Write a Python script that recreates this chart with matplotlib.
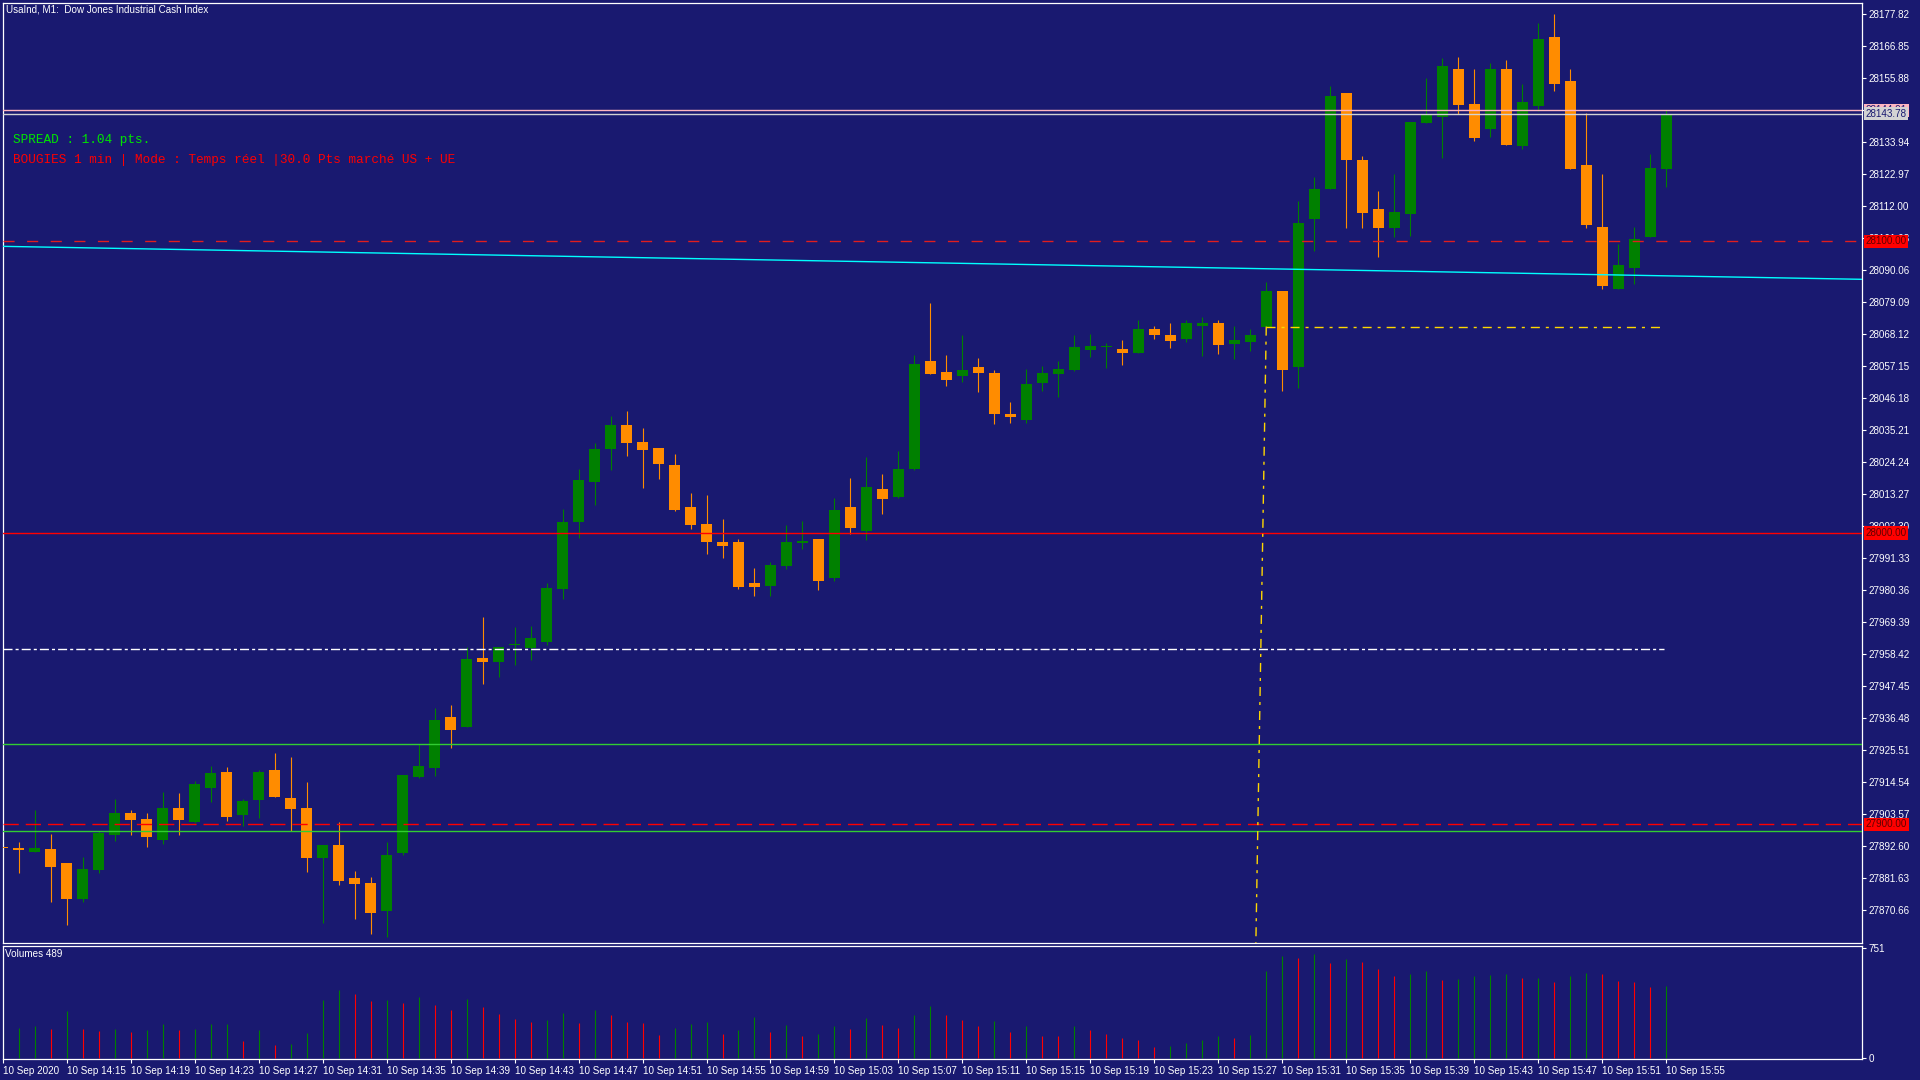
import numpy as np
import pandas as pd
import matplotlib
matplotlib.use('Agg')
import matplotlib.pyplot as plt
import matplotlib.transforms as mtrans

plt.rcParams['font.family'] = ['Liberation Sans', 'DejaVu Sans']
plt.rcParams['lines.scale_dashes'] = False

# UsaInd M1 candles, 10 Sep 2020 14:11 -> 15:55
opens = [27891.92, 27892.02, 27890.65, 27891.57, 27886.77, 27874.54, 27884.48, 27896.48, 27903.92, 27901.86,
         27894.76, 27905.63, 27900.93, 27912.59, 27917.97, 27903.33, 27908.47, 27918.66, 27909.06, 27905.63,
         27888.59, 27892.95, 27881.63, 27879.92, 27870.42, 27890.30, 27916.36, 27919.44, 27936.83, 27933.50,
         27957.05, 27955.78, 27961.51, 27960.58, 27962.64, 27980.70, 28003.78, 28017.49, 28028.80, 28036.93,
         28031.10, 28029.04, 28023.21, 28008.82, 28002.99, 27996.82, 27996.82, 27982.76, 27981.84, 27988.69,
         27996.58, 27997.85, 27984.58, 28008.82, 28000.69, 28014.99, 28012.35, 28021.84, 28058.87, 28055.09,
         28053.83, 28056.81, 28054.75, 28040.70, 28038.74, 28051.43, 28054.51, 28055.88, 28062.74, 28063.77,
         28062.98, 28061.71, 28069.84, 28067.78, 28066.51, 28070.97, 28071.89, 28064.80, 28065.48, 28070.62,
         28082.86, 28056.91, 28107.54, 28117.93, 28150.74, 28127.77, 28110.97, 28104.56, 28109.36, 28140.56,
         28142.61, 28158.97, 28146.97, 28138.50, 28158.97, 28132.67, 28146.38, 28169.94, 28154.85, 28126.06,
         28104.80, 28083.65, 28090.85, 28101.48, 28124.79]
highs = [27892.60, 27893.97, 27904.94, 27896.72, 27886.77, 27888.83, 27897.85, 27908.71, 27904.94, 27903.92,
         27911.11, 27910.77, 27914.89, 27920.03, 27919.68, 27908.71, 27918.66, 27924.48, 27923.11, 27914.54,
         27892.95, 27900.83, 27884.03, 27881.98, 27893.97, 27916.94, 27927.47, 27939.91, 27940.94, 27960.82,
         27971.11, 27960.82, 27967.68, 27968.02, 27982.76, 28008.13, 28021.84, 28030.76, 28040.01, 28041.73,
         28035.90, 28029.04, 28026.98, 28013.61, 28012.93, 28004.70, 27997.85, 27987.90, 27989.96, 28002.64,
         28004.02, 27997.85, 28011.90, 28018.76, 28025.96, 28020.13, 28028.01, 28060.92, 28078.75, 28060.92,
         28067.78, 28059.89, 28055.78, 28044.81, 28056.12, 28057.15, 28058.87, 28067.78, 28068.12, 28065.04,
         28066.06, 28072.92, 28070.86, 28071.89, 28072.92, 28073.95, 28072.92, 28070.86, 28069.84, 28085.95,
         28082.86, 28113.72, 28121.94, 28153.14, 28150.74, 28129.14, 28117.14, 28122.97, 28140.80, 28155.88,
         28162.74, 28163.08, 28158.97, 28161.02, 28162.05, 28153.82, 28174.74, 28177.82, 28158.97, 28143.88,
         28122.97, 28098.97, 28104.80, 28129.83, 28144.91]
lows = [27891.60, 27883.35, 27890.65, 27873.51, 27865.62, 27873.51, 27883.45, 27894.42, 27896.48, 27892.36,
        27893.39, 27896.48, 27900.59, 27907.79, 27901.28, 27899.56, 27902.30, 27909.50, 27897.85, 27883.79,
        27866.31, 27879.34, 27867.68, 27862.54, 27861.51, 27889.62, 27915.90, 27916.70, 27926.30, 27933.50,
        27948.24, 27950.64, 27954.75, 27956.47, 27961.61, 27977.28, 27998.29, 28009.60, 28021.60, 28026.40,
        28015.43, 28018.52, 28007.55, 28001.38, 27992.81, 27991.43, 27980.81, 27978.41, 27978.41, 27987.66,
        27994.52, 27980.46, 27983.55, 27999.66, 27997.61, 28006.52, 28011.90, 28021.50, 28054.51, 28050.40,
        28051.77, 28048.34, 28037.37, 28037.71, 28037.71, 28048.68, 28046.63, 28055.54, 28060.34, 28056.57,
        28057.60, 28061.71, 28066.51, 28063.42, 28065.48, 28060.68, 28061.37, 28059.65, 28062.40, 28070.52,
        28048.68, 28049.71, 28096.57, 28117.93, 28104.56, 28104.56, 28094.62, 28101.48, 28101.82, 28140.56,
        28128.56, 28143.64, 28134.39, 28135.76, 28133.02, 28131.64, 28144.67, 28151.53, 28124.79, 28104.56,
        28083.65, 28083.65, 28085.36, 28101.48, 28118.62]
closes = [27891.92, 27891.23, 27891.92, 27885.40, 27874.54, 27884.72, 27897.06, 27903.92, 27901.62, 27895.79,
          27905.63, 27901.62, 27913.86, 27917.63, 27902.65, 27908.03, 27917.97, 27909.50, 27905.39, 27888.59,
          27892.95, 27880.71, 27879.68, 27869.74, 27889.52, 27916.94, 27920.03, 27935.80, 27932.47, 27956.71,
          27955.78, 27960.82, 27961.95, 27963.91, 27981.05, 28003.67, 28018.07, 28028.70, 28036.93, 28030.86,
          28028.46, 28023.66, 28007.89, 28002.75, 27996.92, 27995.55, 27981.49, 27981.49, 27988.93, 27996.82,
          27997.16, 27983.55, 28007.79, 28001.72, 28015.67, 28011.66, 28021.84, 28057.84, 28054.51, 28052.45,
          28055.78, 28054.85, 28040.80, 28039.77, 28050.98, 28054.75, 28056.12, 28063.66, 28064.01, 28064.11,
          28061.71, 28069.84, 28067.88, 28065.82, 28071.89, 28071.89, 28064.45, 28066.06, 28067.78, 28082.86,
          28055.88, 28106.17, 28117.83, 28149.71, 28127.87, 28109.70, 28104.56, 28109.94, 28140.80, 28143.20,
          28159.99, 28146.73, 28135.41, 28158.97, 28133.02, 28147.65, 28169.25, 28153.93, 28124.79, 28105.59,
          28084.68, 28091.78, 28100.69, 28125.03, 28143.78]
volumes = [180, 203, 217, 196, 318, 196, 183, 196, 176, 189,
           230, 189, 196, 230, 232, 115, 189, 88, 95, 169,
           392, 460, 433, 386, 392, 372, 413, 359, 325, 399,
           345, 298, 264, 246, 257, 304, 237, 325, 291, 244,
           237, 156, 203, 230, 244, 162, 189, 277, 176, 223,
           149, 162, 217, 196, 271, 223, 203, 291, 352, 291,
           257, 217, 250, 176, 217, 149, 149, 217, 189, 162,
           135, 122, 74, 81, 101, 122, 149, 135, 156, 589,
           690, 683, 704, 643, 670, 650, 602, 555, 568, 589,
           528, 535, 555, 562, 568, 541, 543, 514, 555, 575,
           568, 521, 514, 480, 489]

price_ticks = [28177.82, 28166.85, 28155.88, 28144.91, 28133.94, 28122.97, 28112.00, 28101.03,
               28090.06, 28079.09, 28068.12, 28057.15, 28046.18, 28035.21, 28024.24, 28013.27,
               28002.30, 27991.33, 27980.36, 27969.39, 27958.42, 27947.45, 27936.48, 27925.51,
               27914.54, 27903.57, 27892.60, 27881.63, 27870.66]

bid, ask = 28143.78, 28144.91
level_prices = [28100.00, 28000.00, 27900.00]
green_levels = [27927.57, 27897.74]
white_level = 27960.14
yellow_level = 28070.76
cyan_start, cyan_end = 28098.29, 28086.98

BG = '#191970'
UP = '#008000'
DOWN = '#FF8C00'
FS = 7.1

o = np.array(opens); h = np.array(highs); l = np.array(lows); c = np.array(closes)
v = np.array(volumes)
n = len(o)
idx = np.arange(n)
times = pd.date_range('2020-09-10 14:11', periods=n, freq='min')

W, H = 1920, 1080
fig = plt.figure(figsize=(19.2, 10.8), dpi=100, facecolor=BG)

def fx(px):
    return px / W

def fy(py):
    return 1 - py / H

ax = fig.add_axes([fx(2.5), fy(942.5), fx(1862) - fx(2.5), fy(2.5) - fy(942.5)])
vax = fig.add_axes([fx(2.5), fy(1059), fx(1862) - fx(2.5), fy(945.5) - fy(1059)])

for a in (ax, vax):
    a.set_facecolor(BG)
    for s in a.spines.values():
        s.set_color('white')
        s.set_linewidth(0.9)
    a.set_xlim(-0.02, 116.25)

# candles
col = np.where(c > o, UP, DOWN)
ax.vlines(idx, l, h, colors=col, lw=0.8, zorder=2)
body_lo = np.minimum(o, c)
body_h = np.maximum(np.abs(c - o), 0.4)
ax.bar(idx, body_h, bottom=body_lo, width=0.69, color=col, lw=0, zorder=3)

# lines on the chart
ax.axhline(ask, color='#FFB6C1', lw=1.0, zorder=5)
ax.axhline(bid, color='#D3D3D3', lw=1.0, zorder=5)
ax.axhline(level_prices[0], color='#E01E1E', lw=1.0, dashes=(8, 9), zorder=5)
ax.axhline(level_prices[1], color='#FF0000', lw=1.0, zorder=5)
ax.axhline(level_prices[2], color='#FF0000', lw=1.0, dashes=(11, 5), zorder=5)
for g in green_levels:
    ax.axhline(g, color='#32CD32', lw=1.0, zorder=5)
ax.plot([-0.02, 103.9], [white_level, white_level], color='white', lw=1.0,
        dashes=(6.5, 2.2, 2.2, 2.2), zorder=5)
ax.plot([79, 103.8], [yellow_level, yellow_level], color='#FFD700', lw=1.0,
        dashes=(6.5, 4.3, 2.2, 4.3), zorder=5)
ax.plot([79, 78.35], [yellow_level, 27859.3], color='#FFD700', lw=1.0,
        dashes=(6.5, 4.3, 2.2, 4.3), zorder=5)
ax.plot([-0.02, 116.25], [cyan_start, cyan_end], color='#00FFFF', lw=1.0, zorder=5)

ax.set_ylim(27859.5, 28181.93)
ax.yaxis.tick_right()
ax.set_yticks(price_ticks)
ax.set_yticklabels(['%.2f' % t for t in price_ticks])
ax.tick_params(axis='y', colors='white', length=3, width=0.8, labelsize=FS, pad=1.5)
ax.set_xticks([])

# price labels on the right
tr = mtrans.blended_transform_factory(ax.transAxes, ax.transData)
xl = 1 + 3.5 / 1859.5
ax.text(xl, ask, '%.2f' % ask, transform=tr, color=BG, fontsize=FS, va='center', ha='left',
        clip_on=False, zorder=10, bbox=dict(boxstyle='square,pad=0.18', fc='#FFB6C1', ec='none'))
ax.text(xl, bid, '%.2f' % bid, transform=tr, color=BG, fontsize=FS, va='center', ha='left',
        clip_on=False, zorder=11, bbox=dict(boxstyle='square,pad=0.18', fc='#D3D3D3', ec='none'))
for p in level_prices:
    ax.text(xl, p, '%.2f' % p, transform=tr, color='#600000', fontsize=FS, va='center', ha='left',
            clip_on=False, zorder=10, bbox=dict(boxstyle='square,pad=0.18', fc='#FF0000', ec='none'))

# volumes
vcol = [UP] + [UP if v[i] > v[i - 1] else '#FF0000' for i in range(1, n)]
vax.vlines(idx, 0, v, colors=vcol, lw=0.8)
vax.set_ylim(-6.8, 764.6)
vax.yaxis.tick_right()
vax.set_yticks([0, 751])
vax.set_yticklabels(['0', '751'])
vax.tick_params(axis='y', colors='white', length=3, width=0.8, labelsize=FS, pad=1.5)
xt = idx[::4]
vax.set_xticks(xt)
vax.set_xticklabels(['10 Sep 2020' if i == 0 else times[i].strftime('10 Sep %H:%M') for i in xt],
                    ha='left')
vax.tick_params(axis='x', colors='white', length=3, width=0.8, labelsize=FS, pad=2)

# texts
fig.text(fx(6), fy(9), 'UsaInd, M1:  Dow Jones Industrial Cash Index', color='white',
         fontsize=FS, va='center', ha='left')
fig.text(fx(5), fy(954), 'Volumes 489', color='white', fontsize=FS, va='center', ha='left')
fig.text(fx(13), fy(140), 'SPREAD : 1.04 pts.', color='#00E600', fontsize=9.2,
         family=['Liberation Mono', 'DejaVu Sans Mono'], va='center', ha='left')
fig.text(fx(13), fy(160), 'BOUGIES 1 min | Mode : Temps réel |30.0 Pts marché US + UE', color='#FF0000',
         fontsize=9.2, family=['Liberation Mono', 'DejaVu Sans Mono'], va='center', ha='left')

fig.savefig('out.png', dpi=100, facecolor=BG)
